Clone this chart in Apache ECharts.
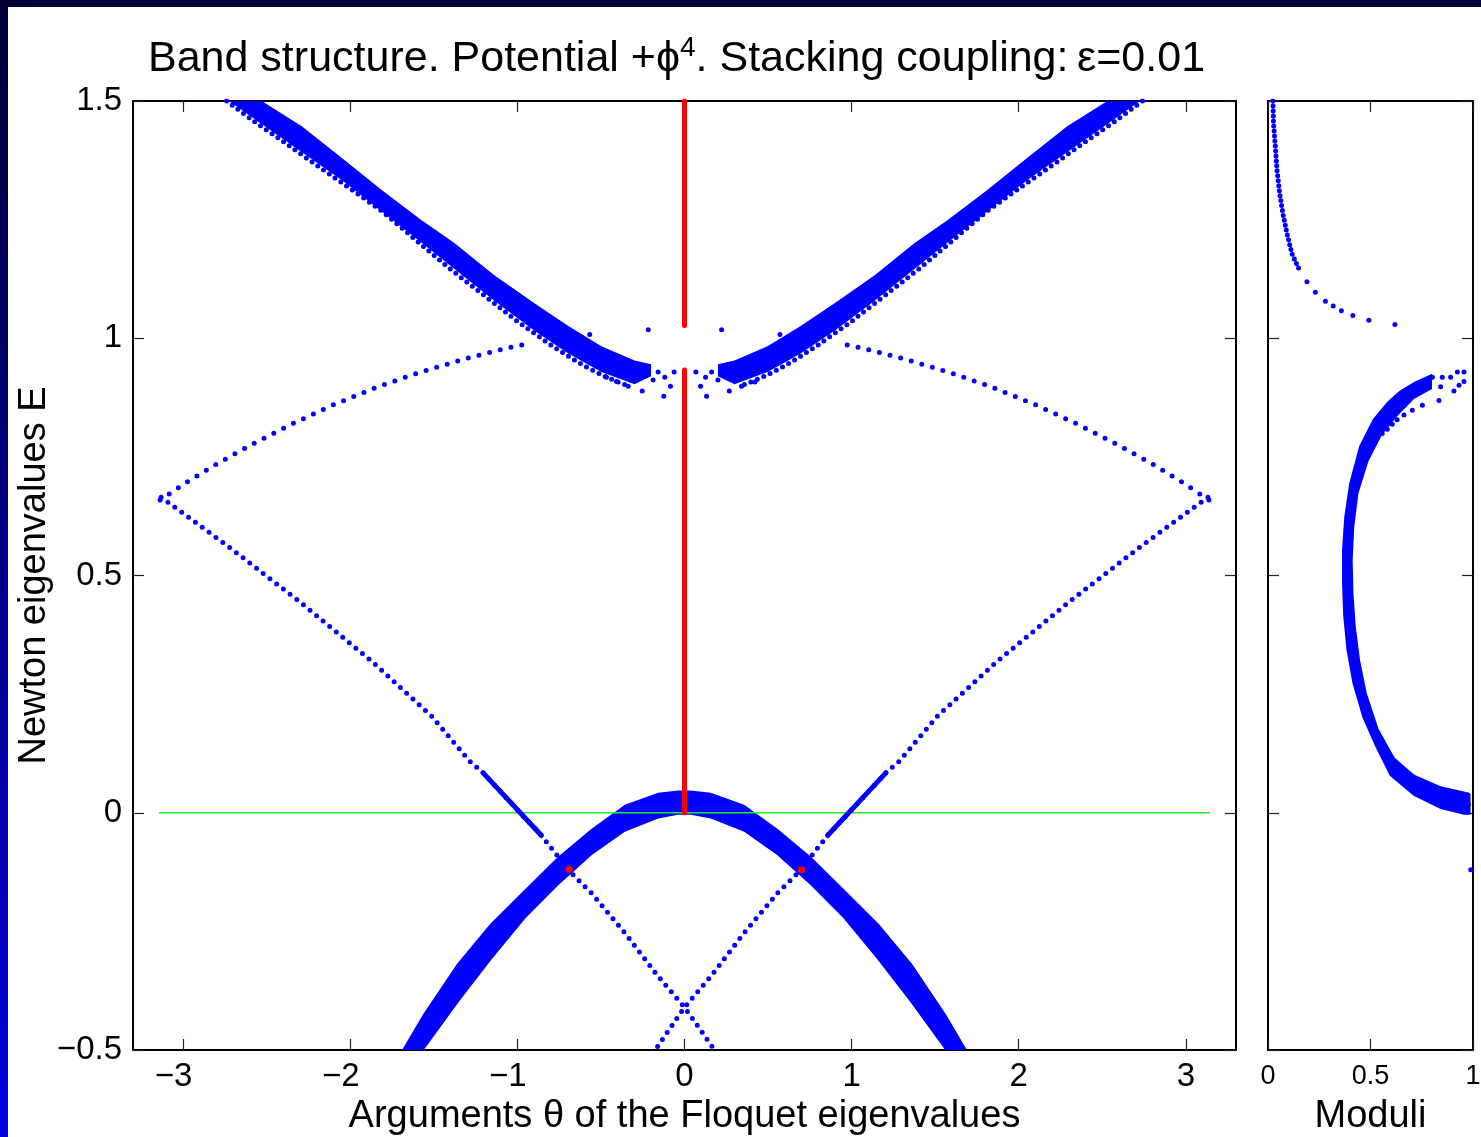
<html>
<head>
    <meta charset="utf-8">
    <title>Band structure</title>
    <script src="https://cdn.jsdelivr.net/npm/echarts@6/dist/echarts.min.js"></script>
    <style>
        body { margin: 0; width: 1481px; height: 1137px; overflow: hidden;
               background: linear-gradient(to bottom, #000035, #0000e0); }
        #main { position: absolute; left: 8px; top: 7px; width: 1473px; height: 1130px; background: #fff; }
    </style>
</head>
<body>
    <div id="main"></div>
    <script type="text/javascript">
        // tick positions
        const xTicksMain = [-3, -2, -1, 0, 1, 2, 3];

        // green reference line E = 0
        const zeroLine = [[-3.1416, 0], [3.1416, 0]];

        // upper (optical) band, left branch: upper boundary, inner boundary, dotted outer row
        const upperBandLeftTop = [[-2.53, 1.5], [-2.29, 1.447], [-2.05, 1.38], [-1.81, 1.312], [-1.575, 1.249], [-1.377, 1.201],
            [-1.138, 1.133], [-0.898, 1.074], [-0.695, 1.026], [-0.497, 0.983], [-0.299, 0.953], [-0.2, 0.945]];
        const upperBandLeftInner = [[-2.726, 1.5], [-2.52, 1.449], [-2.05, 1.333], [-1.575, 1.202], [-1.138, 1.079], [-0.898, 1.016],
            [-0.695, 0.968], [-0.497, 0.929], [-0.299, 0.903], [-0.2, 0.92]];
        const upperBandLeftEdge = [[-2.74, 1.5], [-2.575, 1.457], [-2.41, 1.417], [-2.215, 1.368], [-2.01, 1.318], [-1.814, 1.269],
            [-1.617, 1.21], [-1.413, 1.149], [-1.198, 1.09], [-0.994, 1.034], [-0.796, 0.985], [-0.677, 0.958],
            [-0.575, 0.937], [-0.467, 0.918], [-0.335, 0.899]];
        // right branch
        const upperBandRightTop = [[2.53, 1.5], [2.29, 1.447], [2.05, 1.38], [1.81, 1.312], [1.575, 1.249], [1.377, 1.201],
            [1.138, 1.133], [0.898, 1.074], [0.695, 1.026], [0.497, 0.983], [0.299, 0.953], [0.2, 0.945]];
        const upperBandRightInner = [[2.726, 1.5], [2.52, 1.449], [2.05, 1.333], [1.575, 1.202], [1.138, 1.079], [0.898, 1.016],
            [0.695, 0.968], [0.497, 0.929], [0.299, 0.903], [0.2, 0.92]];
        const upperBandRightEdge = [[2.74, 1.5], [2.575, 1.457], [2.41, 1.417], [2.215, 1.368], [2.01, 1.318], [1.814, 1.269],
            [1.617, 1.21], [1.413, 1.149], [1.198, 1.09], [0.994, 1.034], [0.796, 0.985], [0.677, 0.958],
            [0.575, 0.937], [0.467, 0.918], [0.335, 0.899]];
        // loose points at the bottom of the upper band
        const upperBandStray = [[-0.337, 0.899], [-0.253, 0.889], [-0.124, 0.878], [-0.084, 0.899], [-0.062, 0.929],
            [-0.118, 0.918], [-0.158, 0.929], [-0.188, 0.912], [-0.407, 0.909], [-0.467, 0.918],
            [0.068, 0.929], [0.096, 0.899], [0.132, 0.878], [0.268, 0.889], [0.341, 0.899], [0.126, 0.918],
            [0.162, 0.929], [0.421, 0.908], [0.2, 0.912]];

        // lower (acoustic) band, cap shape, both edges left to right
        const lowerCapOuter = [[-1.69, -0.5], [-1.565, -0.425], [-1.362, -0.319], [-1.162, -0.234], [-0.962, -0.164],
            [-0.76, -0.094], [-0.56, -0.035], [-0.357, 0.017], [-0.157, 0.042], [-0.038, 0.047], [0.038, 0.047],
            [0.157, 0.042], [0.357, 0.017], [0.56, -0.035], [0.76, -0.094], [0.962, -0.164], [1.162, -0.234],
            [1.362, -0.319], [1.565, -0.425], [1.69, -0.5]];
        const lowerCapInner = [[-1.56, -0.5], [-1.349, -0.398], [-1.15, -0.307], [-0.95, -0.222], [-0.752, -0.152],
            [-0.554, -0.089], [-0.357, -0.04], [-0.157, -0.012], [-0.038, -0.004], [0.038, -0.004], [0.157, -0.012],
            [0.357, -0.04], [0.554, -0.089], [0.752, -0.152], [0.95, -0.222], [1.15, -0.307],
            [1.349, -0.398], [1.56, -0.5]];

        // V shaped single modes
        const vUpperLeft = [[-3.138, 0.659], [-2.968, 0.699], [-2.78, 0.739], [-2.573, 0.779], [-2.351, 0.819], [-2.106, 0.859],
            [-1.826, 0.899], [-1.585, 0.928], [-1.299, 0.958], [-1.068, 0.979], [-0.93, 0.989]];
        const vUpperRight = [[3.138, 0.659], [2.968, 0.699], [2.78, 0.739], [2.573, 0.779], [2.351, 0.819], [2.106, 0.859],
            [1.826, 0.899], [1.585, 0.928], [1.299, 0.958], [1.068, 0.979], [0.93, 0.989]];
        const vIsolated = [[-0.567, 1.008], [-0.217, 1.018], [0.222, 1.018], [0.571, 1.008]];
        const vLowerLeft = [[-3.132, 0.665], [-2.725, 0.56], [-2.293, 0.442], [-1.874, 0.32], [-1.515, 0.204], [-1.286, 0.109],
            [-1.205, 0.084], [-0.856, -0.048], [-0.757, -0.092], [-0.677, -0.127], [-0.557, -0.169], [-0.357, -0.253],
            [-0.157, -0.345], [0.002, -0.411], [0.18, -0.5]];
        const vLowerRight = [[3.132, 0.665], [2.725, 0.56], [2.293, 0.442], [1.874, 0.32], [1.515, 0.204], [1.286, 0.109],
            [1.205, 0.084], [0.856, -0.048], [0.757, -0.092], [0.677, -0.127], [0.557, -0.169], [0.357, -0.253],
            [0.157, -0.345], [-0.002, -0.411], [-0.175, -0.5]];
        const vDenseLeft = [[-1.205, 0.084], [-0.856, -0.048]];
        const vDenseRight = [[1.205, 0.084], [0.856, -0.048]];

        // red: theta = 0 eigenvalues and crossings
        const redUpper = [[0, 1.027], [0, 1.5]];
        const redLower = [[0, 0], [0, 0.933]];
        const redDots = [[-0.69, -0.119], [0.70, -0.12]];

        // right panel: moduli
        const moduliUpper = [[0.024, 1.5], [0.027, 1.452], [0.036, 1.403], [0.044, 1.354], [0.057, 1.305], [0.073, 1.262],
            [0.093, 1.22], [0.117, 1.178], [0.15, 1.147]];
        const moduliTail = [[0.19, 1.119], [0.231, 1.097], [0.28, 1.078], [0.318, 1.068], [0.358, 1.058], [0.414, 1.048],
            [0.492, 1.038], [0.619, 1.029]];
        // both edges top to bottom
        const moduliOuter = [[0.80, 0.925], [0.712, 0.908], [0.64, 0.889], [0.582, 0.866], [0.512, 0.83], [0.445, 0.773],
            [0.396, 0.694], [0.372, 0.624], [0.361, 0.554], [0.361, 0.484], [0.367, 0.414], [0.383, 0.343],
            [0.412, 0.273], [0.461, 0.2], [0.527, 0.136], [0.594, 0.078], [0.71, 0.036], [0.842, 0.008],
            [0.956, -0.004], [0.988, -0.004]];
        const moduliInner = [[0.80, 0.893], [0.712, 0.872], [0.636, 0.838], [0.556, 0.796], [0.49, 0.741], [0.441, 0.673],
            [0.421, 0.603], [0.413, 0.533], [0.417, 0.462], [0.428, 0.392], [0.449, 0.322], [0.482, 0.252],
            [0.539, 0.177], [0.618, 0.116], [0.714, 0.08], [0.842, 0.056], [0.956, 0.045], [0.988, 0.04]];
        const moduliStray = [[0.924, 0.929], [0.956, 0.929], [0.932, 0.901], [0.956, 0.909], [0.891, 0.918], [0.85, 0.918],
            [0.802, 0.918], [0.777, 0.908], [0.842, 0.898], [0.907, 0.889], [0.834, 0.869], [0.753, 0.859],
            [0.704, 0.848], [0.663, 0.838], [0.63, 0.828], [0.606, 0.819], [0.582, 0.808], [0.557, 0.799],
            [0.973, 0.038], [0.977, 0.017], [0.989, -0.12]];

        const FONT = '"Liberation Sans", Arial, Helvetica, sans-serif';
        const BLUE = '#0000ff';
        const RED = '#ff0000';

        var myChart = echarts.init(document.getElementById('main'));

        function minus(v) {
            return v < 0 ? '\u2212' + Math.abs(v) : String(v);
        }
        // matlab centres the digits of negative x labels on the tick
        function minusX(v) {
            return v < 0 ? '{n|\u2212' + Math.abs(v) + '}' : '{p|' + v + '}';
        }

        // filled band outline (both edges given in the same direction)
        function band(top, bottom) {
            var pts = top.concat(bottom.slice().reverse());
            return {
                type: 'custom', data: [[0, 0]], silent: true,
                renderItem: function (params, api) {
                    return {
                        type: 'polygon',
                        shape: { points: pts.map(function (p) { return api.coord(p); }) },
                        style: { fill: BLUE }
                    };
                }
            };
        }
        function dotted(data, gap, color) {
            return {
                type: 'line', data: data, symbol: 'none', silent: true,
                lineStyle: { color: color || BLUE, width: 5, type: [0, gap], cap: 'round' }
            };
        }
        function solid(data, width, color, z) {
            return {
                type: 'line', data: data, symbol: 'none', silent: true, z: z || 2,
                lineStyle: { color: color, width: width, cap: 'round' }
            };
        }
        function dots(data, color, size, z) {
            return {
                type: 'scatter', data: data, symbol: 'circle', symbolSize: size || 5, silent: true, z: z || 2,
                itemStyle: { color: color || BLUE, opacity: 1 }
            };
        }

        var boxLine = { show: true, onZero: false, lineStyle: { color: '#000', width: 2 } };
        var tick = { show: true, inside: true, length: 11, lineStyle: { color: '#222', width: 1.2 } };
        var label = { color: '#000', fontFamily: FONT, fontSize: 33 };
        var axisName = { fontFamily: FONT, fontSize: 38, color: '#000' };

        let option = {
            animation: false,
            title: {
                text: '{a|Band structure. Potential +ϕ}{s|4}{a|. Stacking coupling:\u2009ε=0.01}',
                left: 135, top: 19,
                textStyle: {
                    rich: {
                        a: { fontFamily: FONT, fontSize: 43, fontWeight: 'normal', color: '#000', lineHeight: 50, verticalAlign: 'bottom' },
                        s: { fontFamily: FONT, fontSize: 28, fontWeight: 'normal', color: '#000', lineHeight: 50, verticalAlign: 'bottom', padding: [0, 0, 19, 0] }
                    }
                }
            },
            grid: [
                { left: 125, top: 94, width: 1103, height: 949, outerBoundsMode: 'none' },
                { left: 1260, top: 94, width: 205, height: 949, outerBoundsMode: 'none' }
            ],
            xAxis: [
                {
                    gridIndex: 0, type: 'value', min: -3.3, max: 3.3, position: 'bottom',
                    axisLine: boxLine, splitLine: { show: false },
                    axisTick: Object.assign({ customValues: xTicksMain }, tick),
                    axisLabel: Object.assign({
                        customValues: xTicksMain, margin: 10, formatter: minusX,
                        rich: {
                            n: { fontFamily: FONT, fontSize: 33, color: '#000', padding: [0, 19, 0, 0] },
                            p: { fontFamily: FONT, fontSize: 33, color: '#000' }
                        }
                    }, label),
                    name: 'Arguments θ of the Floquet eigenvalues', nameLocation: 'middle', nameGap: 48,
                    nameMoveOverlap: false, nameTextStyle: axisName
                },
                {
                    gridIndex: 0, type: 'value', min: -3.3, max: 3.3, position: 'top',
                    axisLine: boxLine, splitLine: { show: false },
                    axisTick: Object.assign({ customValues: xTicksMain }, tick),
                    axisLabel: { show: false }
                },
                {
                    gridIndex: 1, type: 'value', min: 0, max: 1, interval: 0.5, position: 'bottom',
                    axisLine: boxLine, splitLine: { show: false }, axisTick: tick,
                    axisLabel: Object.assign({}, label, { fontSize: 27, margin: 13, formatter: minus }),
                    name: 'Moduli', nameLocation: 'middle', nameGap: 48,
                    nameMoveOverlap: false, nameTextStyle: axisName
                },
                {
                    gridIndex: 1, type: 'value', min: 0, max: 1, interval: 0.5, position: 'top',
                    axisLine: boxLine, splitLine: { show: false }, axisTick: tick,
                    axisLabel: { show: false }
                }
            ],
            yAxis: [
                {
                    gridIndex: 0, type: 'value', min: -0.5, max: 1.5, interval: 0.5, position: 'left',
                    axisLine: boxLine, splitLine: { show: false }, axisTick: tick,
                    axisLabel: Object.assign({ margin: 11, formatter: minus }, label),
                    name: 'Newton eigenvalues E', nameLocation: 'middle', nameGap: 79, nameRotate: 90,
                    nameMoveOverlap: false, nameTextStyle: axisName
                },
                {
                    gridIndex: 0, type: 'value', min: -0.5, max: 1.5, interval: 0.5, position: 'right',
                    axisLine: boxLine, splitLine: { show: false }, axisTick: tick,
                    axisLabel: { show: false }
                },
                {
                    gridIndex: 1, type: 'value', min: -0.5, max: 1.5, interval: 0.5, position: 'left',
                    axisLine: boxLine, splitLine: { show: false }, axisTick: tick,
                    axisLabel: { show: false }
                },
                {
                    gridIndex: 1, type: 'value', min: -0.5, max: 1.5, interval: 0.5, position: 'right',
                    axisLine: boxLine, splitLine: { show: false }, axisTick: tick,
                    axisLabel: { show: false }
                }
            ],
            series: []
        };

        // series of the main panel use axes 0, the moduli panel axes 2
        function main(s) { s.xAxisIndex = 0; s.yAxisIndex = 0; return s; }
        function side(s) { s.xAxisIndex = 2; s.yAxisIndex = 2; return s; }

        option.series = [
            main(solid(zeroLine, 1.6, '#22ee22')),
            main(band(lowerCapOuter, lowerCapInner)),
            main(dotted(vLowerLeft, 8.5)),
            main(dotted(vLowerRight, 8.5)),
            main(solid(vDenseLeft, 5, BLUE)),
            main(solid(vDenseRight, 5, BLUE)),
            main(dotted(vUpperLeft, 11)),
            main(dotted(vUpperRight, 11)),
            main(dots(vIsolated)),
            main(band(upperBandLeftTop, upperBandLeftInner)),
            main(band(upperBandRightTop, upperBandRightInner)),
            main(dotted(upperBandLeftEdge, 7)),
            main(dotted(upperBandRightEdge, 7)),
            main(dots(upperBandStray)),
            main(solid(redUpper, 5, RED, 5)),
            main(solid(redLower, 5, RED, 5)),
            main(dots(redDots, RED, 7, 6)),
            side(dotted(moduliUpper, 5)),
            side(dots(moduliTail)),
            side(band(moduliOuter, moduliInner)),
            side(dots(moduliStray))
        ];

        myChart.setOption(option);
    </script>
</body>
</html>
